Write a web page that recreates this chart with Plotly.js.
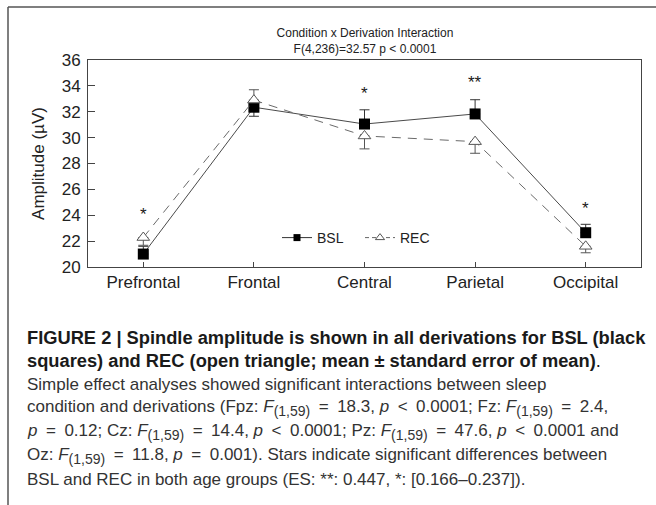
<!DOCTYPE html>
<html>
<head>
<meta charset="utf-8">
<script src="https://cdn.plot.ly/plotly-3.0.1.min.js"></script>
<style>
  html, body { margin: 0; padding: 0; background: #ffffff; }
  #chart { width: 656px; height: 505px; }
</style>
</head>
<body>
<div id="chart"></div>
<script>
// ---- Data ----
const derivations = ['Prefrontal', 'Frontal', 'Central', 'Parietal', 'Occipital'];
const bslMean = [21.0, 32.35, 31.05, 31.83, 22.65];
const bslErrUp = [0.6, 0, 1.1, 1.1, 0.65];
const bslErrDown = [0, 0.7, 0, 0, 0];
const recMean = [22.28, 32.9, 30.13, 29.69, 21.6];
const recErrUp = [0, 0.8, 0, 0, 0];
const recErrDown = [0.6, 0, 1.0, 0.9, 0.5];
const sigLabels = ['*', '', '*', '**', '*'];
const sigY = [24.28, null, 33.63, 34.53, 24.79];
const yTicks = [20, 22, 24, 26, 28, 30, 32, 34, 36];

// ---- Layout helpers (pixel -> paper) ----
const W = 656, H = 505;
const mL = 88, mR = 15, mT = 60, mB = 238;
const pw = W - mL - mR, ph = H - mT - mB;
const px2x = px => (px - mL) / pw;
const py2y = py => (H - mB - py) / ph;

const FONT = 'Liberation Sans, Arial, sans-serif';

const traces = [
  {
    x: derivations, y: bslMean, type: 'scatter', mode: 'lines+markers', name: 'BSL',
    showlegend: false, cliponaxis: false,
    line: { color: '#4a4a4a', width: 1 },
    marker: { symbol: 'square', size: 11, color: '#000000' },
    error_y: { type: 'data', symmetric: false, array: bslErrUp, arrayminus: bslErrDown,
               color: '#333333', thickness: 1, width: 5 }
  },
  {
    x: derivations, y: recMean, type: 'scatter', mode: 'lines+markers', name: 'REC',
    showlegend: false, cliponaxis: false,
    line: { color: '#6a6a6a', width: 1, dash: '9px,7px' },
    marker: { symbol: 'triangle-up', size: 11, color: '#ffffff', line: { color: '#555555', width: 1 } },
    error_y: { type: 'data', symmetric: false, array: recErrUp, arrayminus: recErrDown,
               color: '#555555', thickness: 1, width: 5 }
  },
  // legend entries (smaller symbols as in the reference legend)
  {
    x: [null], y: [null], type: 'scatter', mode: 'lines+markers', name: 'BSL',
    line: { color: '#333333', width: 1 },
    marker: { symbol: 'square', size: 7, color: '#000000' }
  },
  {
    x: [null], y: [null], type: 'scatter', mode: 'lines+markers', name: 'REC',
    line: { color: '#666666', width: 1, dash: '4px,3px' },
    marker: { symbol: 'triangle-up', size: 8, color: '#ffffff', line: { color: '#555555', width: 1 } }
  }
];

const annotations = [];
derivations.forEach((d, i) => {
  if (sigLabels[i]) {
    annotations.push({
      x: d, y: sigY[i], xref: 'x', yref: 'y', text: sigLabels[i], showarrow: false,
      xanchor: 'center', yanchor: 'middle', yshift: -3,
      font: { family: FONT, size: 17, color: '#1a1a1a' }
    });
  }
});

const E = '\u2002';           // wider space around operators, as in the caption
const Fs = '<i>F</i><sub><span style="font-size:14px">(1,59)</span></sub>';
const captionLines = [
  { t: '<b>FIGURE 2 | Spindle amplitude is shown in all derivations for BSL (black</b>', c: '#1a1a1a', s: 18.3 },
  { t: '<b>squares) and REC (open triangle; mean ± standard error of mean)</b>.', c: '#1a1a1a', s: 18.3 },
  { t: 'Simple effect analyses showed significant interactions between sleep', c: '#333333', s: 17 },
  { t: 'condition and derivations (Fpz: ' + Fs + E + '=' + E + '18.3, <i>p</i>' + E + '&lt;' + E + '0.0001; Fz: ' + Fs + E + '=' + E + '2.4,', c: '#333333', s: 17 },
  { t: '<i>p</i>' + E + '=' + E + '0.12; Cz: ' + Fs + E + '=' + E + '14.4, <i>p</i>' + E + '&lt;' + E + '0.0001; Pz: ' + Fs + E + '=' + E + '47.6, <i>p</i>' + E + '&lt;' + E + '0.0001 and', c: '#333333', s: 17 },
  { t: 'Oz: ' + Fs + E + '=' + E + '11.8, <i>p</i>' + E + '=' + E + '0.001). Stars indicate significant differences between', c: '#333333', s: 17 },
  { t: 'BSL and REC in both age groups (ES: **: 0.447, *: [0.166–0.237]).', c: '#333333', s: 17 }
];
const capTop = 337, capStep = 23.7;
captionLines.forEach((ln, i) => {
  annotations.push({
    xref: 'paper', yref: 'paper', x: px2x(25), y: py2y(capTop + i * capStep),
    xanchor: 'left', yanchor: 'middle', align: 'left', showarrow: false,
    text: ln.t, font: { family: FONT, size: ln.s, color: ln.c }
  });
});

const layout = {
  width: W, height: H,
  margin: { l: mL, r: mR, t: mT, b: mB },
  paper_bgcolor: '#ffffff', plot_bgcolor: '#ffffff',
  font: { family: FONT, color: '#222222' },
  title: {
    text: 'Condition x Derivation Interaction<br>F(4,236)=32.57 p &lt; 0.0001',
    font: { family: FONT, size: 12, color: '#222222' },
    x: px2x(365), xref: 'paper', xanchor: 'center',
    y: 1 - 37 / H, yref: 'container', yanchor: 'top'
  },
  xaxis: {
    type: 'category', range: [-0.5, 4.5], fixedrange: true,
    showgrid: false, zeroline: false,
    showline: true, linecolor: '#444444', linewidth: 1, mirror: true,
    ticks: 'inside', ticklen: 5, tickcolor: '#444444',
    tickfont: { family: FONT, size: 17, color: '#222222' }
  },
  yaxis: {
    range: [20, 36], tickvals: yTicks, ticktext: yTicks.map(String), fixedrange: true,
    showgrid: false, zeroline: false,
    showline: true, linecolor: '#444444', linewidth: 1, mirror: true,
    ticks: 'inside', ticklen: 7, tickcolor: '#444444', ticklabelstandoff: 3,
    tickfont: { family: FONT, size: 17, color: '#222222' },
    title: { text: 'Amplitude (µV)', font: { family: FONT, size: 17, color: '#222222' }, standoff: 12 }
  },
  legend: {
    orientation: 'h', x: px2x(277), y: py2y(238), xanchor: 'left', yanchor: 'middle',
    entrywidth: 38, entrywidthmode: 'pixels',
    bgcolor: 'rgba(0,0,0,0)', font: { family: FONT, size: 14, color: '#222222' },
    itemclick: false, itemdoubleclick: false
  },
  shapes: [
    { type: 'line', xref: 'paper', yref: 'paper', x0: px2x(8), y0: py2y(7), x1: px2x(656), y1: py2y(7),
      line: { color: '#555555', width: 1.5 } },
    { type: 'line', xref: 'paper', yref: 'paper', x0: px2x(8), y0: py2y(7), x1: px2x(8), y1: py2y(505),
      line: { color: '#555555', width: 1.5 } }
  ],
  annotations: annotations
};

Plotly.newPlot('chart', traces, layout, { displayModeBar: false, staticPlot: true });
</script>
</body>
</html>
